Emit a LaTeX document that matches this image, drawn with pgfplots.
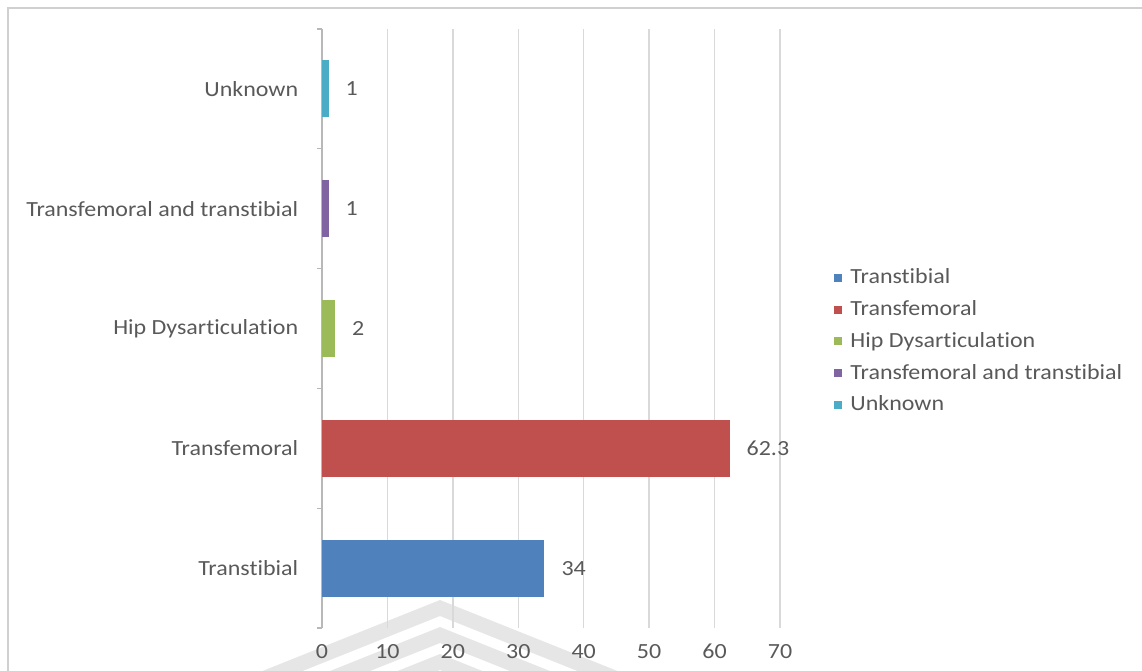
\documentclass[border=0pt]{standalone}
\usepackage{fontspec}
\setmainfont{Carlito}[FakeStretch=1.11, Ligatures=NoCommon]
\usepackage{pgfplots}
\pgfplotsset{compat=1.18}

\definecolor{cTT}{HTML}{4F81BD}
\definecolor{cTF}{HTML}{C0504D}
\definecolor{cHD}{HTML}{9BBB59}
\definecolor{cTB}{HTML}{8064A2}
\definecolor{cUN}{HTML}{4BACC6}
\definecolor{txt}{HTML}{595959}
\definecolor{gridc}{HTML}{D9D9D9}
\definecolor{framec}{HTML}{D0D0D0}
\definecolor{chevc}{HTML}{E6E6E6}

\newcommand{\lbl}{\fontsize{10.8bp}{13bp}\selectfont\color{txt}}

\begin{document}
\begin{tikzpicture}
\useasboundingbox (0,0) rectangle (571bp,-335.5bp);
% chart frame
\draw[framec, line width=0.9bp] (4bp,-340bp) -- (4bp,-4bp) -- (575bp,-4bp);
% faint chevron emblem behind the plot
\begin{scope}
\clip (4.5bp,-4.5bp) rectangle (571bp,-335.5bp);
\foreach \k in {0,1,2} {
  \pgfmathsetmacro{\ay}{-300-13.5*\k}
  \fill[chevc] (40bp,\ay bp-72bp) -- (220bp,\ay bp) -- (400bp,\ay bp-72bp)
     -- (400bp,\ay bp-80bp) -- (220bp,\ay bp-8bp) -- (40bp,\ay bp-80bp) -- cycle;
}
\end{scope}
\begin{axis}[
  at={(161bp,-314bp)}, anchor=south west,
  scale only axis, width=229bp, height=299.5bp,
  xmin=0, xmax=70, ymin=-0.5, ymax=4.5,
  xbar, bar width=28.5bp, bar shift=0pt,
  xtick={0,10,...,70},
  ytick={0,1,2,3,4},
  yticklabels={Transtibial,Transfemoral,Hip Dysarticulation,Transfemoral and transtibial,Unknown},
  minor ytick={-0.5,0.5,1.5,2.5,3.5,4.5},
  axis lines*=left,
  axis line style={-},
  x axis line style={draw=none},
  y axis line style={draw=gridc!85!black, line width=0.75bp},
  major tick length=0pt, minor tick length=2.5bp, tick align=outside,
  minor tick style={draw=gridc!85!black, line width=0.6bp},
  xmajorgrids, grid style={draw=gridc, line width=0.75bp},
  /pgf/number format/assume math mode=true,
  ticklabel style={font=\lbl},
  yticklabel style={xshift=-8.4bp},
  xticklabel style={yshift=-4.5bp},
  nodes near coords,
  nodes near coords style={font=\lbl, anchor=west, xshift=5bp},
  legend style={at={(axis description cs:1.118,0.602)}, anchor=north west,
    draw=none, fill=none, inner sep=0pt, font=\lbl,
    row sep=5.9bp, cells={anchor=west},
    nodes={inner xsep=4bp, inner ysep=0.5bp}},
  legend image code/.code={\path[#1] (0bp,-2bp) rectangle (4bp,2bp);},
  clip=false,
]
\addplot[fill=cTT, draw=none] coordinates {(34,0)};
\addplot[fill=cTF, draw=none] coordinates {(62.3,1)};
\addplot[fill=cHD, draw=none] coordinates {(2,2)};
\addplot[fill=cTB, draw=none] coordinates {(1,3)};
\addplot[fill=cUN, draw=none] coordinates {(1,4)};
\legend{Transtibial,Transfemoral,Hip Dysarticulation,Transfemoral and transtibial,Unknown}
\end{axis}
\end{tikzpicture}
\end{document}
